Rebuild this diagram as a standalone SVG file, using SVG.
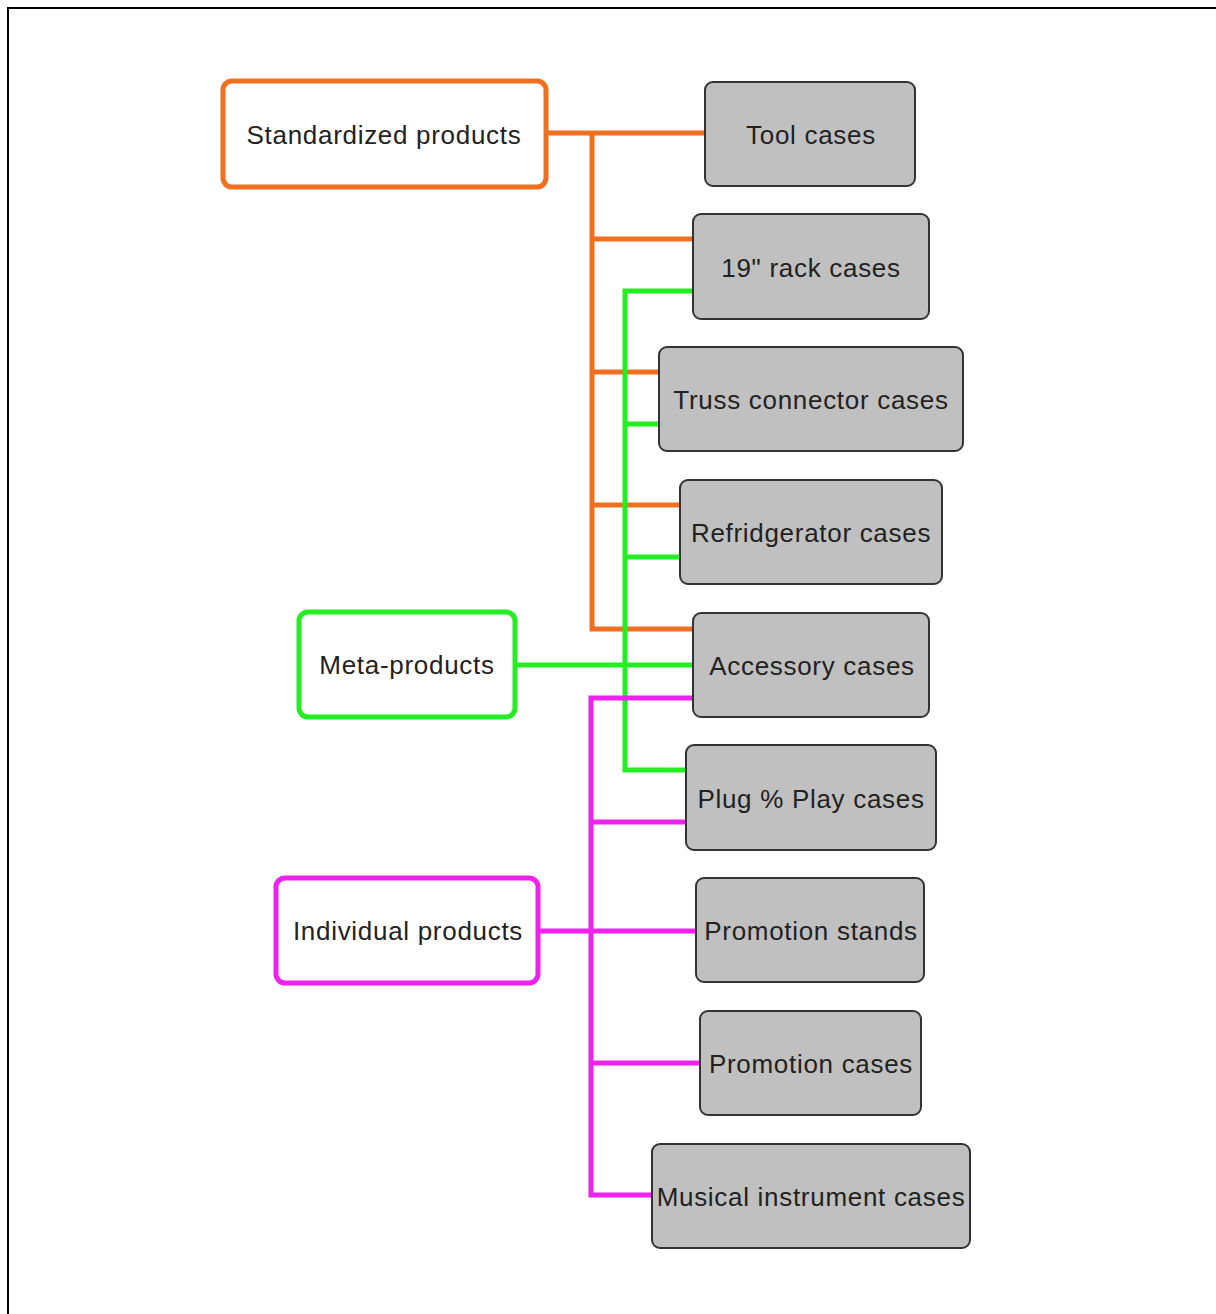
<svg xmlns="http://www.w3.org/2000/svg" width="1216" height="1314" viewBox="0 0 1216 1314">
  <style>
    .frame { fill: none; stroke: #000; stroke-width: 2; }
    .cat { fill: #fff; stroke-width: 5; }
    .item { fill: #c0c0c0; stroke: #333; stroke-width: 2; }
    .lbl { font-family: "Liberation Sans", Arial, sans-serif; font-size: 26px; letter-spacing: 0.7px; fill: #222; text-anchor: middle; }
    .c-orange { stroke: #f07020; }
    .c-green { stroke: #22ee22; }
    .c-magenta { stroke: #ee22ee; }
    .wire { fill: none; stroke-width: 5; stroke-linejoin: miter; }
  </style>
  <rect width="1216" height="1314" fill="#fff"/>
  <!-- page frame -->
  <path class="frame" d="M8 1314 V8 H1216"/>

  <!-- connectors -->
  <g id="connectors">
    <g class="wire c-orange">
      <path d="M546 133 H705"/>
      <path d="M592 133 V629 H693"/>
      <path d="M592 239 H693"/>
      <path d="M592 372 H659"/>
      <path d="M592 505 H680"/>
    </g>
    <g class="wire c-green">
      <path d="M515 665 H693"/>
      <path d="M693 291 H625 V770 H686"/>
      <path d="M625 424 H659"/>
      <path d="M625 557 H680"/>
    </g>
    <g class="wire c-magenta">
      <path d="M538 931 H696"/>
      <path d="M693 698 H591 V1195 H652"/>
      <path d="M591 822 H686"/>
      <path d="M591 1063 H700"/>
    </g>
  </g>

  <!-- category nodes -->
  <g id="standardized-products">
    <rect class="cat c-orange" x="223" y="81" width="323" height="106" rx="9"/>
    <text class="lbl" x="384" y="144">Standardized products</text>
  </g>
  <g id="meta-products">
    <rect class="cat c-green" x="299" y="612" width="216" height="105" rx="9"/>
    <text class="lbl" x="407" y="674">Meta-products</text>
  </g>
  <g id="individual-products">
    <rect class="cat c-magenta" x="276" y="878" width="262" height="105" rx="9"/>
    <text class="lbl" x="408" y="940">Individual products</text>
  </g>

  <!-- product nodes -->
  <g id="tool-cases">
    <rect class="item" x="705" y="82" width="210" height="104" rx="8"/>
    <text class="lbl" x="811" y="144">Tool cases</text>
  </g>
  <g id="rack-cases">
    <rect class="item" x="693" y="214" width="236" height="105" rx="8"/>
    <text class="lbl" x="811" y="277">19" rack cases</text>
  </g>
  <g id="truss-connector-cases">
    <rect class="item" x="659" y="347" width="304" height="104" rx="8"/>
    <text class="lbl" x="811" y="409">Truss connector cases</text>
  </g>
  <g id="refridgerator-cases">
    <rect class="item" x="680" y="480" width="262" height="104" rx="8"/>
    <text class="lbl" x="811" y="542">Refridgerator cases</text>
  </g>
  <g id="accessory-cases">
    <rect class="item" x="693" y="613" width="236" height="104" rx="8"/>
    <text class="lbl" x="812" y="675">Accessory cases</text>
  </g>
  <g id="plug-play-cases">
    <rect class="item" x="686" y="745" width="250" height="105" rx="8"/>
    <text class="lbl" x="811" y="808">Plug % Play cases</text>
  </g>
  <g id="promotion-stands">
    <rect class="item" x="696" y="878" width="228" height="104" rx="8"/>
    <text class="lbl" x="811" y="940">Promotion stands</text>
  </g>
  <g id="promotion-cases">
    <rect class="item" x="700" y="1011" width="221" height="104" rx="8"/>
    <text class="lbl" x="811" y="1073">Promotion cases</text>
  </g>
  <g id="musical-instrument-cases">
    <rect class="item" x="652" y="1144" width="318" height="104" rx="8"/>
    <text class="lbl" x="811" y="1206">Musical instrument cases</text>
  </g>
</svg>
